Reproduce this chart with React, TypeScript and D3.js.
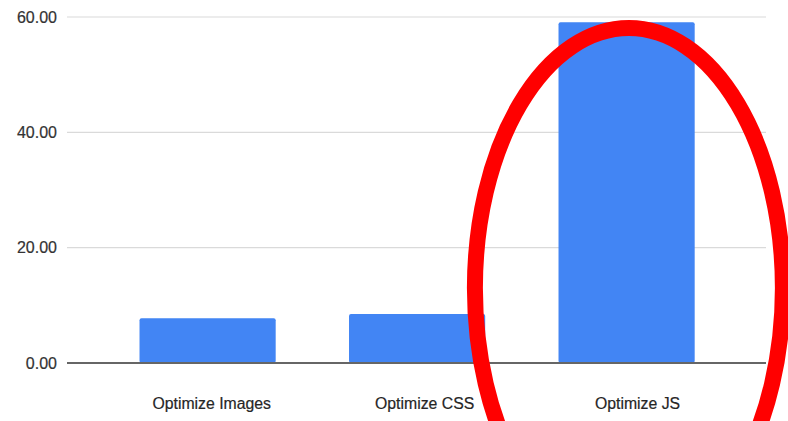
import React from "react";
import * as d3 from "d3";

const categories = ["Optimize Images", "Optimize CSS", "Optimize JS"];
const values = [7.75, 8.5, 59.08];
const yTicks = [0, 20, 40, 60];
const highlighted = "Optimize JS";

const W = 788;
const H = 421;

export default function App() {
  const y = d3.scaleLinear().domain([0, 60]).range([363, 17]);
  const x = d3.scaleBand<string>().domain(categories).range([102.85, 731.35]).paddingInner(0.35).paddingOuter(0.175);
  const xLabel = d3.scaleBand<string>().domain(categories).range([105.25, 744]);
  const gridX0 = 67;
  const gridX1 = 766;
  const font = "'Liberation Sans', Arial, Helvetica, sans-serif";
  const hx = (x(highlighted) as number) + x.bandwidth() / 2;

  return (
    <svg width={W} height={H} style={{ position: "absolute", left: 0, top: 0, display: "block", background: "#fff" }}>
      {yTicks.filter((t) => t !== 0).map((t) => (
        <line key={t} x1={gridX0} x2={gridX1} y1={y(t)} y2={y(t)} stroke="#dadada" strokeWidth={1.2} />
      ))}
      {yTicks.map((t) => (
        <text key={"l" + t} x={57} y={y(t) + 5.8} textAnchor="end" fontFamily={font} fontSize={16} fill="#333" stroke="#333" strokeWidth={0.2}>
          {t.toFixed(2)}
        </text>
      ))}
      {categories.map((c, i) => (
        <rect
          key={c}
          x={x(c)}
          y={y(values[i])}
          width={x.bandwidth()}
          height={y(0) - y(values[i])}
          rx={2}
          fill="#4285F4"
        />
      ))}
      <line x1={gridX0} x2={gridX1} y1={y(0)} y2={y(0)} stroke="#666" strokeWidth={2} />
      {categories.map((c) => (
        <text
          key={"x" + c}
          x={(xLabel(c) as number) + xLabel.bandwidth() / 2}
          y={409}
          textAnchor="middle"
          fontFamily={font}
          fontSize={15.8}
          fill="#262626"
          stroke="#262626"
          strokeWidth={0.2}
        >
          {c}
        </text>
      ))}
      <ellipse cx={hx + 2.3} cy={288} rx={154} ry={260} fill="none" stroke="#ff0000" strokeWidth={16} />
    </svg>
  );
}
